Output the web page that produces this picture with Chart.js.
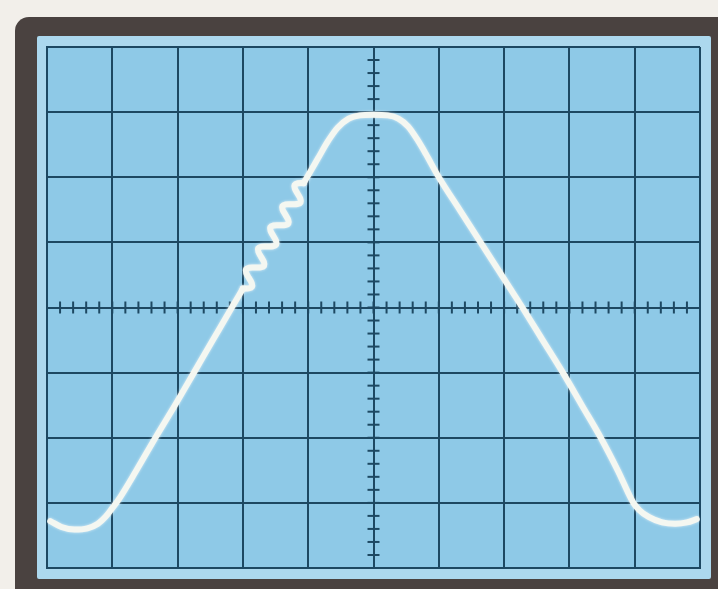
<!DOCTYPE html>
<html>
<head>
<meta charset="utf-8">
<script src="https://cdn.jsdelivr.net/npm/chart.js@4/dist/chart.umd.min.js"></script>
<style>
  html, body { margin: 0; padding: 0; }
  body { width: 718px; height: 589px; background: #f2efea; position: relative; overflow: hidden; }
  #frame { position: absolute; left: 15px; top: 17px; width: 720px; height: 590px; background: #4a4240; border-top-left-radius: 14px; }
  #screen { position: absolute; left: 37px; top: 36px; width: 674px; height: 543px; background: #acd8ee; border-radius: 2px; }
  #c { position: absolute; left: 0; top: 0; }
</style>
</head>
<body>
<div id="frame"></div>
<div id="screen"></div>
<canvas id="c" width="718" height="589"></canvas>
<script>
// Trace: x in horizontal divisions (0..10), y in vertical divisions (-4..4)
// Left trough and rising edge
const leftX = [0.05, 0.22, 0.42, 0.62, 0.78, 0.90, 1.00, 1.09, 1.37, 1.66, 1.96, 2.25, 2.54, 2.83, 3.00];
const leftY = [-3.28, -3.37, -3.41, -3.39, -3.32, -3.21, -3.08, -2.96, -2.50, -2.00, -1.50, -1.00, -0.50, 0.00, 0.29];
// Ripple riding on the rising edge
const rippleX = [3.000, 3.089, 3.140, 3.136, 3.093, 3.050, 3.047, 3.097, 3.186, 3.275, 3.326, 3.322, 3.279, 3.237, 3.233, 3.283, 3.372, 3.461, 3.512, 3.508, 3.465, 3.423, 3.419, 3.469, 3.558, 3.647, 3.698, 3.694, 3.651, 3.608, 3.605, 3.655, 3.744, 3.833, 3.884, 3.880, 3.837, 3.795, 3.791, 3.841, 3.930];
const rippleY = [0.290, 0.293, 0.318, 0.374, 0.452, 0.530, 0.586, 0.611, 0.614, 0.617, 0.642, 0.698, 0.776, 0.854, 0.910, 0.935, 0.938, 0.941, 0.966, 1.022, 1.100, 1.178, 1.234, 1.259, 1.262, 1.265, 1.290, 1.346, 1.424, 1.502, 1.558, 1.583, 1.586, 1.589, 1.614, 1.670, 1.748, 1.826, 1.882, 1.907, 1.910];
// Flat top, falling edge and right trough
const rightX = [3.93, 4.00, 4.15, 4.30, 4.45, 4.62, 4.79, 4.99, 5.22, 5.38, 5.53, 5.67, 5.80, 6.00, 6.32, 6.64, 6.96, 7.28, 7.59, 7.90, 8.19, 8.48, 8.74, 8.98, 9.07, 9.22, 9.42, 9.62, 9.80, 9.95];
const rightY = [1.91, 2.03, 2.29, 2.55, 2.76, 2.90, 2.95, 2.96, 2.95, 2.90, 2.78, 2.58, 2.36, 2.00, 1.50, 1.00, 0.50, 0.00, -0.50, -1.00, -1.50, -2.00, -2.50, -3.00, -3.11, -3.22, -3.30, -3.32, -3.30, -3.25];
// Graticule
const xDivMin = 0, xDivMax = 10;
const yDivMin = -4, yDivMax = 4;
const centerX = 5, centerY = 0;
const minorStep = 0.2;

const toPts = (xs, ys) => xs.map((x, i) => ({ x: x, y: ys[i] }));

const GRID = '#1d4862';
const TRACE = '#f4f7f1';
const screenPlugin = {
  id: 'screen',
  beforeDraw(chart) {
    const { ctx, chartArea: a } = chart;
    ctx.save();
    ctx.fillStyle = '#8ec9e7';
    ctx.fillRect(a.left, a.top, a.right - a.left, a.bottom - a.top);
    ctx.restore();
  },
  beforeDatasetsDraw(chart) {
    const { ctx, scales: { x, y } } = chart;
    ctx.save();
    ctx.strokeStyle = GRID;
    ctx.lineWidth = 2;
    const cx = x.getPixelForValue(centerX);
    const cy = y.getPixelForValue(centerY);
    const nx = Math.round((xDivMax - xDivMin) / minorStep);
    for (let i = 1; i < nx; i++) {
      const px = x.getPixelForValue(xDivMin + i * minorStep);
      ctx.beginPath(); ctx.moveTo(px, cy - 6); ctx.lineTo(px, cy + 6); ctx.stroke();
    }
    const ny = Math.round((yDivMax - yDivMin) / minorStep);
    for (let i = 1; i < ny; i++) {
      const py = y.getPixelForValue(yDivMin + i * minorStep);
      ctx.beginPath(); ctx.moveTo(cx - 6, py); ctx.lineTo(cx + 6, py); ctx.stroke();
    }
    ctx.restore();
    // soft phosphor glow for the trace
    ctx.save();
    ctx.shadowColor = 'rgba(255,255,255,0.7)';
    ctx.shadowBlur = 3;
  },
  afterDatasetsDraw(chart) {
    chart.ctx.restore();
  }
};

const traceStyle = {
  showLine: true,
  borderColor: TRACE,
  borderWidth: 6,
  pointRadius: 0,
  borderCapStyle: 'round',
  borderJoinStyle: 'round',
  fill: false
};

new Chart(document.getElementById('c'), {
  type: 'scatter',
  data: {
    datasets: [
      Object.assign({ data: toPts(leftX, leftY), cubicInterpolationMode: 'monotone' }, traceStyle),
      Object.assign({ data: toPts(rippleX, rippleY), tension: 0.3 }, traceStyle),
      Object.assign({ data: toPts(rightX, rightY), cubicInterpolationMode: 'monotone' }, traceStyle)
    ]
  },
  options: {
    responsive: false,
    animation: false,
    events: [],
    layout: { padding: { left: 47, top: 47, right: 18, bottom: 21 } },
    plugins: { legend: { display: false }, tooltip: { enabled: false } },
    scales: {
      x: {
        type: 'linear', min: xDivMin, max: xDivMax,
        ticks: { display: false, stepSize: 1 },
        grid: { color: GRID, lineWidth: 2, drawTicks: false },
        border: { display: true, color: GRID, width: 2 }
      },
      y: {
        type: 'linear', min: yDivMin, max: yDivMax,
        ticks: { display: false, stepSize: 1 },
        grid: { color: GRID, lineWidth: 2, drawTicks: false },
        border: { display: true, color: GRID, width: 2 }
      }
    }
  },
  plugins: [screenPlugin]
});
</script>
</body>
</html>
